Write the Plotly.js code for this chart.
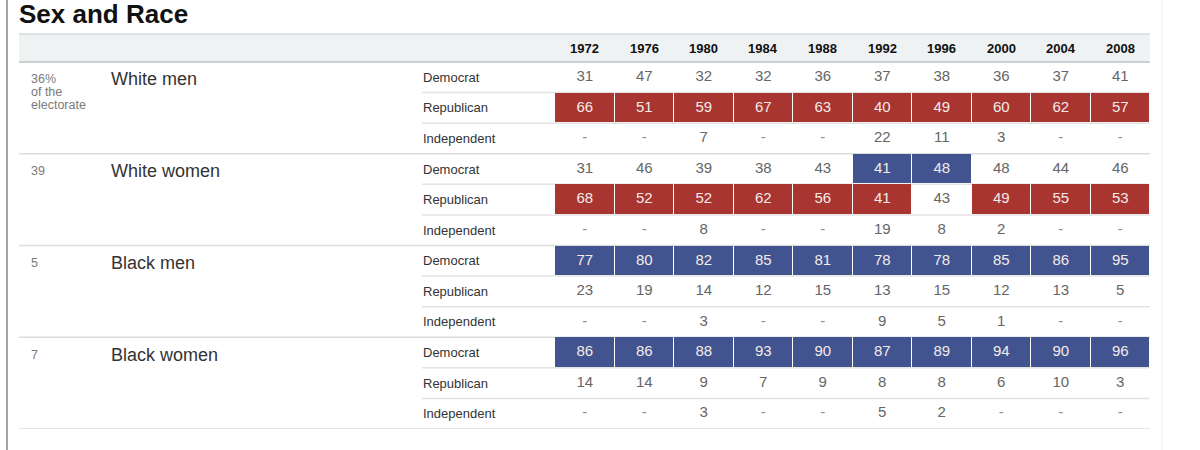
<!DOCTYPE html>
<html>
<head>
<meta charset="utf-8">
<script src="https://cdn.plot.ly/plotly-3.0.1.min.js"></script>
<style>html,body{margin:0;padding:0;background:#fff;}#chart{width:1200px;height:450px;}</style>
</head>
<body>
<div id="chart"></div>
<script>
// ---- data ----
const years = ['1972','1976','1980','1984','1988','1992','1996','2000','2004','2008'];
const groups = ['White men','White women','Black men','Black women'];
const shares = ['36%<br>of the<br>electorate','39','5','7'];
const parties = ['Democrat','Republican','Independent'];

const whiteMenDem = [31,47,32,32,36,37,38,36,37,41];
const whiteMenRep = [66,51,59,67,63,40,49,60,62,57];
const whiteMenInd = [null,null,7,null,null,22,11,3,null,null];

const whiteWomenDem = [31,46,39,38,43,41,48,48,44,46];
const whiteWomenRep = [68,52,52,62,56,41,43,49,55,53];
const whiteWomenInd = [null,null,8,null,null,19,8,2,null,null];

const blackMenDem = [77,80,82,85,81,78,78,85,86,95];
const blackMenRep = [23,19,14,12,15,13,15,12,13,5];
const blackMenInd = [null,null,3,null,null,9,5,1,null,null];

const blackWomenDem = [86,86,88,93,90,87,89,94,90,96];
const blackWomenRep = [14,14,9,7,9,8,8,6,10,3];
const blackWomenInd = [null,null,3,null,null,5,2,null,null,null];

const groupData = [
  [whiteMenDem, whiteMenRep, whiteMenInd],
  [whiteWomenDem, whiteWomenRep, whiteWomenInd],
  [blackMenDem, blackMenRep, blackMenInd],
  [blackWomenDem, blackWomenRep, blackWomenInd]
];

// ---- styles ----
const FONT = 'Liberation Sans, Arial, Helvetica, sans-serif';
const RED = '#a8352f';
const BLUE = '#42548f';
const W = 1200, H = 450;
const px = v => v / W;
const py = v => 1 - v / H;

// ---- build rows ----
const z = [];
const tx = [], ty = [], tt = [], tc = [];
let row = 0;
groupData.forEach((g) => {
  g.forEach((series, p) => {
    const zr = [];
    series.forEach((v, j) => {
      const colMax = Math.max(...g.map(s => (s[j] == null ? -1 : s[j])));
      let code = null;
      if (v != null && v === colMax && p < 2) code = (p === 0 ? 2 : 1);
      zr.push(code);
      tx.push(years[j]);
      ty.push(row);
      tt.push(v == null ? '-' : String(v));
      tc.push(code != null ? '#f3eaea' : (v == null ? '#909090' : '#666666'));
    });
    z.push(zr);
    row++;
  });
});
const rowIdx = z.map((_, i) => i);

const traces = [
  {
    type: 'heatmap', x: years, y: rowIdx, z: z,
    zmin: 1, zmax: 2,
    colorscale: [[0, RED], [0.5, RED], [0.5, BLUE], [1, BLUE]],
    showscale: false, xgap: 1, ygap: 1, hoverinfo: 'skip'
  },
  {
    type: 'scatter', mode: 'text', x: tx, y: ty, text: tt, xaxis: 'x2',
    textfont: {family: FONT, size: 15, color: tc},
    hoverinfo: 'skip', showlegend: false
  }
];

const shapes = [];
const annotations = [];

// frame lines
shapes.push({type:'line', xref:'paper', yref:'paper', x0:px(7), x1:px(7), y0:0, y1:1, line:{color:'#a5a5a5', width:2}, layer:'below'});
shapes.push({type:'line', xref:'paper', yref:'paper', x0:px(1162), x1:px(1162), y0:0, y1:1, line:{color:'#f1f1f1', width:1}, layer:'below'});
// header band
shapes.push({type:'rect', xref:'paper', yref:'paper', x0:px(19), x1:px(1150), y0:py(62), y1:py(34), fillcolor:'#eef2f3', line:{width:0}, layer:'below'});
shapes.push({type:'line', xref:'paper', yref:'paper', x0:px(19), x1:px(1150), y0:py(34), y1:py(34), line:{color:'#d6dadc', width:1.5}, layer:'below'});
shapes.push({type:'line', xref:'paper', yref:'paper', x0:px(19), x1:px(1150), y0:py(62), y1:py(62), line:{color:'#cdd0d2', width:2}, layer:'below'});

// row separators
for (let r = 0; r < z.length; r++) {
  const b = r + 0.5;
  const isGroupEnd = (r % 3 === 2);
  shapes.push({
    type:'line', xref:'paper', yref:'y',
    x0: px(isGroupEnd ? 19 : 422), x1: px(1150), y0: b, y1: b,
    line:{color: isGroupEnd ? '#dcdcdc' : '#e3e3e3', width: 1.5}, layer:'below'
  });
}

// header year labels (category axis: position by index)
years.forEach((yr, j) => {
  annotations.push({xref:'x', yref:'paper', x: j, y: py(48), text:'<b>' + yr + '</b>',
    showarrow:false, xanchor:'center', yanchor:'middle', font:{family:FONT, size:13, color:'#111'}});
});

// group, share and party labels
groups.forEach((gName, gi) => {
  const first = gi * 3;
  annotations.push({xref:'paper', yref:'y', x: px(109), y: first, text: gName, showarrow:false,
    xanchor:'left', yanchor:'middle', yshift: -2, font:{family:FONT, size:18, color:'#333'}});
  shares[gi].split('<br>').forEach((line, li) => {
    annotations.push({xref:'paper', yref:'y', x: px(29), y: first, text: line, showarrow:false,
      xanchor:'left', yanchor:'middle', yshift: -2 - li * 13, font:{family:FONT, size:12.5, color:'#7a7a7a'}});
  });
  parties.forEach((p, pi) => {
    annotations.push({xref:'paper', yref:'y', x: px(421), y: first + pi, text: p, showarrow:false,
      xanchor:'left', yanchor:'middle', font:{family:FONT, size:13, color:'#333'}});
  });
});

const layout = {
  width: W, height: H,
  margin: {l:0, r:0, t:0, b:0},
  paper_bgcolor: '#ffffff', plot_bgcolor: 'rgba(0,0,0,0)',
  title: {text:'<b>Sex and Race</b>', x: px(19), xanchor:'left', xref:'paper', y: py(14), yref:'paper', yanchor:'middle',
    font:{family:FONT, size:26, color:'#111'}},
  showlegend: false,
  xaxis: {type:'category', categoryorder:'array', categoryarray: years, range:[-0.5, 9.5],
    domain:[px(555), px(1150)], showgrid:false, zeroline:false, showticklabels:false, ticks:'', showline:false, fixedrange:true},
  xaxis2: {type:'category', categoryorder:'array', categoryarray: years, range:[-0.5, 9.5], overlaying:'x',
    domain:[px(551), px(1146)], showgrid:false, zeroline:false, showticklabels:false, ticks:'', showline:false, fixedrange:true},
  yaxis: {range:[z.length - 0.5, -0.5], domain:[py(429), py(62)], showgrid:false, zeroline:false,
    showticklabels:false, ticks:'', showline:false, fixedrange:true},
  shapes: shapes,
  annotations: annotations
};

Plotly.newPlot('chart', traces, layout, {displayModeBar:false, staticPlot:true});
</script>
</body>
</html>
